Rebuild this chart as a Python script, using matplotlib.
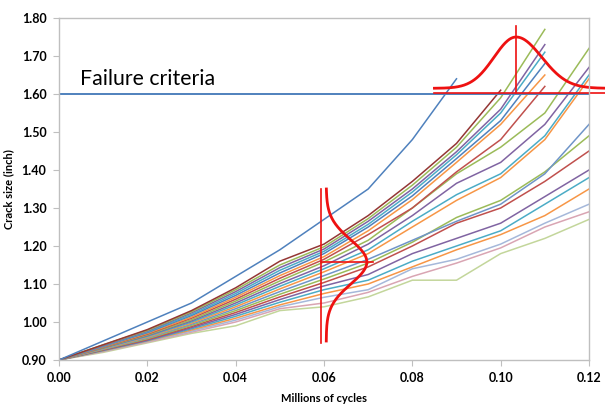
import numpy as np
import matplotlib.pyplot as plt

# ============================================
# Crack growth curves (crack size vs. millions of cycles)
# ============================================

cycles = [0.00, 0.01, 0.02, 0.03, 0.04, 0.05, 0.06, 0.07, 0.08, 0.09, 0.10, 0.11, 0.12]

blue_fast = [0.90, 0.950, 1.000, 1.050, 1.120, 1.190, 1.270, 1.350, 1.480, 1.640]
dark_red = [0.90, 0.940, 0.980, 1.030, 1.090, 1.160, 1.205, 1.280, 1.370, 1.470, 1.610]
green_a = [0.90, 0.940, 0.978, 1.027, 1.085, 1.150, 1.198, 1.272, 1.360, 1.460, 1.590, 1.770]
purple_a = [0.90, 0.938, 0.976, 1.024, 1.080, 1.143, 1.192, 1.265, 1.350, 1.448, 1.560, 1.730]
teal_a = [0.90, 0.937, 0.974, 1.020, 1.075, 1.136, 1.186, 1.257, 1.342, 1.440, 1.550, 1.710]
blue_a = [0.90, 0.936, 0.972, 1.017, 1.070, 1.129, 1.180, 1.250, 1.332, 1.430, 1.530, 1.680]
orange_a = [0.90, 0.935, 0.970, 1.013, 1.065, 1.122, 1.172, 1.240, 1.322, 1.420, 1.520, 1.650]
red_a = [0.90, 0.934, 0.968, 1.010, 1.060, 1.115, 1.165, 1.230, 1.300, 1.395, 1.480, 1.620]
green_b = [0.90, 0.933, 0.966, 1.006, 1.055, 1.108, 1.158, 1.215, 1.300, 1.390, 1.460, 1.550, 1.720]
purple_b = [0.90, 0.932, 0.964, 1.003, 1.050, 1.101, 1.148, 1.205, 1.280, 1.365, 1.420, 1.520, 1.670]
teal_b = [0.90, 0.931, 0.962, 1.000, 1.045, 1.094, 1.140, 1.190, 1.265, 1.335, 1.390, 1.490, 1.650]
orange_b = [0.90, 0.930, 0.960, 0.997, 1.040, 1.087, 1.132, 1.180, 1.250, 1.320, 1.380, 1.480, 1.640]
blue_c = [0.90, 0.929, 0.958, 0.994, 1.035, 1.080, 1.122, 1.165, 1.215, 1.265, 1.310, 1.390, 1.520]
green_c = [0.90, 0.928, 0.956, 0.991, 1.030, 1.073, 1.113, 1.155, 1.210, 1.275, 1.320, 1.395, 1.490]
red_c = [0.90, 0.927, 0.954, 0.988, 1.025, 1.066, 1.104, 1.145, 1.200, 1.260, 1.300, 1.370, 1.450]
purple_c = [0.90, 0.926, 0.952, 0.985, 1.020, 1.059, 1.095, 1.125, 1.180, 1.220, 1.260, 1.330, 1.400]
teal_c = [0.90, 0.925, 0.951, 0.982, 1.015, 1.052, 1.085, 1.110, 1.160, 1.200, 1.240, 1.310, 1.380]
orange_c = [0.90, 0.924, 0.950, 0.979, 1.010, 1.045, 1.075, 1.100, 1.145, 1.190, 1.230, 1.280, 1.350]
lavender_c = [0.90, 0.923, 0.949, 0.976, 1.005, 1.040, 1.065, 1.085, 1.140, 1.165, 1.205, 1.260, 1.310]
pink_c = [0.90, 0.922, 0.947, 0.973, 1.000, 1.035, 1.050, 1.078, 1.120, 1.155, 1.195, 1.250, 1.290]
pale_c = [0.90, 0.920, 0.945, 0.970, 0.990, 1.030, 1.040, 1.066, 1.110, 1.110, 1.180, 1.220, 1.270]

series = [
    (pale_c, '#C3D69B'), (pink_c, '#D9A5B3'), (lavender_c, '#A5B8DA'),
    (orange_c, '#F79646'), (teal_c, '#4BACC6'), (purple_c, '#8064A2'),
    (red_c, '#C0504D'), (green_c, '#9BBB59'), (blue_c, '#6F95C8'),
    (orange_b, '#F79646'), (teal_b, '#4BACC6'), (purple_b, '#8064A2'),
    (green_b, '#9BBB59'), (red_a, '#C0504D'), (orange_a, '#F79646'),
    (blue_a, '#4F81BD'), (teal_a, '#4BACC6'), (purple_a, '#8064A2'),
    (green_a, '#9BBB59'), (dark_red, '#943634'), (blue_fast, '#4F81BD'),
]

failure_level = 1.60

# distribution sketches (red annotations)
mid_cycle = 0.0593
mid_mean, mid_sigma, mid_peak = 1.158, 0.058, 0.0092
fail_cycle = 0.1035
fail_sigma_l, fail_sigma_r, fail_peak = 0.0050, 0.0058, 0.135

# ============================================
# Plot
# ============================================

plt.rcParams['font.family'] = ['Lato', 'DejaVu Sans']

fig = plt.figure(figsize=(6.05, 4.07), dpi=100)
ax = fig.add_axes([59 / 605, 1 - 360 / 407, 530 / 605, 342 / 407])

for vals, col in series:
    ax.plot(cycles[:len(vals)], vals, color=col, lw=1.1, solid_joinstyle='round')

# failure criteria line
ax.plot([0, 0.12], [failure_level, failure_level], color='#4F81BD', lw=1.4)
ax.text(0.0048, 1.624, 'Failure criteria', fontsize=15.3, color='black',
        ha='left', va='baseline')

red = '#EE1111'

# vertical distribution at 0.06
yy = np.linspace(0.95, 1.35, 200)
xx = mid_cycle + 0.0012 + mid_peak * np.exp(-(yy - mid_mean) ** 2 / (2 * mid_sigma ** 2))
ax.plot(xx, yy, color=red, lw=2.0, clip_on=False)
ax.plot([mid_cycle, mid_cycle], [0.945, 1.35], color=red, lw=1.2)
ax.plot([mid_cycle, 0.0711], [mid_mean, mid_mean], color=red, lw=1.2)

# distribution of life at failure
xt = np.linspace(0.085, 0.1237, 300)
sig = np.where(xt < fail_cycle, fail_sigma_l, fail_sigma_r)
yt = 1.615 + fail_peak * np.exp(-(xt - fail_cycle) ** 2 / (2 * sig ** 2))
ax.plot(xt, yt, color=red, lw=2.0, clip_on=False)
ax.plot([0.085, 0.1237], [1.603, 1.603], color=red, lw=1.2, clip_on=False)
ax.plot([fail_cycle, fail_cycle], [1.603, 1.78], color=red, lw=1.2, clip_on=False)

ax.set_xlim(0, 0.12)
ax.set_ylim(0.9, 1.8)
ax.set_xticks(np.arange(0, 0.121, 0.02))
ax.set_yticks(np.arange(0.9, 1.801, 0.1))
ax.set_xticklabels([f'{v:.2f}' for v in np.arange(0, 0.121, 0.02)])
ax.set_yticklabels([f'{v:.2f}' for v in np.arange(0.9, 1.801, 0.1)])

for sp in ax.spines.values():
    sp.set_color('#BFBFBF')
    sp.set_linewidth(1.0)
ax.tick_params(axis='both', direction='out', length=4, color='#BFBFBF',
               labelsize=9, pad=5)
for lab in ax.get_xticklabels() + ax.get_yticklabels():
    lab.set_fontweight('bold')

ax.set_xlabel('Millions of cycles', fontsize=8, fontweight='bold', labelpad=6)
ax.set_ylabel('Crack size (inch)', fontsize=8, fontweight='bold', labelpad=5)

plt.savefig('out.png', dpi=100)
